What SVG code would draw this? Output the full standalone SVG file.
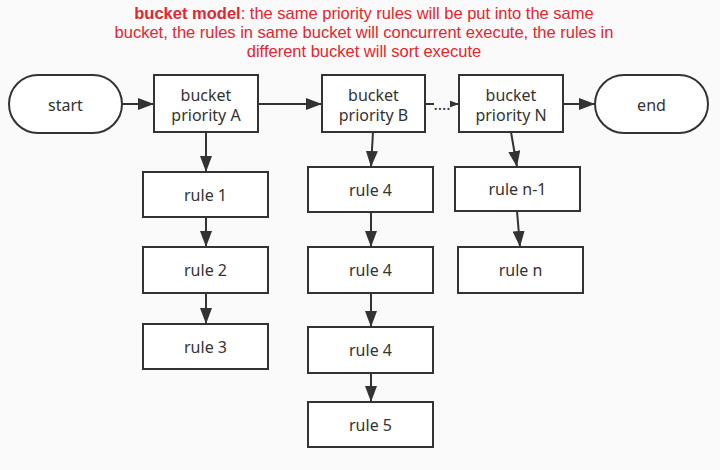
<svg xmlns="http://www.w3.org/2000/svg" width="720" height="470" viewBox="0 0 720 470">
<defs>
<marker id="ah" viewBox="0 0 16 12" refX="16" refY="6" markerWidth="16" markerHeight="12" markerUnits="userSpaceOnUse" orient="auto">
<path d="M0,0 L16,6 L0,12 Z" fill="#333"/>
</marker>
<style>
.box{fill:#fff;stroke:#333;stroke-width:2}
.t{font-family:"Noto Sans","Open Sans",sans-serif;font-size:16px;fill:#333;text-anchor:middle}
.ttl{font-family:"Liberation Sans",Arial,sans-serif;font-size:16.5px;fill:#e3262f;text-anchor:middle}
.c{stroke:#333;stroke-width:2;fill:none;marker-end:url(#ah)}
</style>
</defs>
<rect width="720" height="470" fill="#fafafa"/>
<g id="title">
<text class="ttl" x="364" y="19"><tspan font-weight="bold">bucket model</tspan>: the same priority rules will be put into the same</text>
<text class="ttl" x="364" y="38">bucket, the rules in same bucket will concurrent execute, the rules in</text>
<text class="ttl" x="364" y="57">different bucket will sort execute</text>
</g>
<g id="connectors">
<line class="c" x1="122" y1="104" x2="154" y2="104"/>
<line class="c" x1="258" y1="104" x2="322" y2="104"/>
<line class="c" x1="425" y1="104" x2="459" y2="104"/>
<rect x="434" y="96" width="16" height="16" fill="#fafafa"/>
<text class="t" x="442" y="110" font-size="12">....</text>
<line class="c" x1="563" y1="104" x2="595" y2="104"/>
<line class="c" x1="206" y1="132" x2="206" y2="172"/>
<line class="c" x1="206" y1="217" x2="206" y2="247"/>
<line class="c" x1="206" y1="293" x2="206" y2="324"/>
<line class="c" x1="373" y1="132" x2="371" y2="167"/>
<line class="c" x1="371" y1="212" x2="371" y2="247"/>
<line class="c" x1="371" y1="293" x2="371" y2="327"/>
<line class="c" x1="371" y1="373" x2="371" y2="402"/>
<line class="c" x1="511" y1="132" x2="517" y2="167"/>
<line class="c" x1="517" y1="211" x2="520" y2="247"/>
</g>
<g id="start"><rect class="box" x="9" y="75" width="113" height="58" rx="29"/><text class="t" x="65.5" y="110.5">start</text></g>
<g id="bucketA"><rect class="box" x="154" y="75" width="104" height="57"/><text class="t" x="206" y="101">bucket</text><text class="t" x="206" y="121">priority A</text></g>
<g id="bucketB"><rect class="box" x="322" y="75" width="103" height="57"/><text class="t" x="373.5" y="101">bucket</text><text class="t" x="373.5" y="121">priority B</text></g>
<g id="bucketN"><rect class="box" x="459" y="75" width="104" height="57"/><text class="t" x="511" y="101">bucket</text><text class="t" x="511" y="121">priority N</text></g>
<g id="end"><rect class="box" x="595" y="75" width="113" height="58" rx="29"/><text class="t" x="651.5" y="110.5">end</text></g>
<g id="rule1"><rect class="box" x="143" y="172" width="125" height="45"/><text class="t" x="205.5" y="200.5">rule 1</text></g>
<g id="rule2"><rect class="box" x="143" y="247" width="125" height="46"/><text class="t" x="205.5" y="275.5">rule 2</text></g>
<g id="rule3"><rect class="box" x="143" y="324" width="125" height="45"/><text class="t" x="205.5" y="352.5">rule 3</text></g>
<g id="rule4a"><rect class="box" x="308" y="167" width="125" height="45"/><text class="t" x="370.5" y="195.5">rule 4</text></g>
<g id="rule4b"><rect class="box" x="308" y="247" width="125" height="46"/><text class="t" x="370.5" y="275.5">rule 4</text></g>
<g id="rule4c"><rect class="box" x="308" y="327" width="125" height="46"/><text class="t" x="370.5" y="355.5">rule 4</text></g>
<g id="rule5"><rect class="box" x="308" y="402" width="125" height="45"/><text class="t" x="370.5" y="430.5">rule 5</text></g>
<g id="rulen1"><rect class="box" x="455" y="167" width="125" height="44"/><text class="t" x="517.5" y="194.5">rule n-1</text></g>
<g id="rulen"><rect class="box" x="458" y="247" width="125" height="46"/><text class="t" x="520.5" y="275.5">rule n</text></g>
</svg>
